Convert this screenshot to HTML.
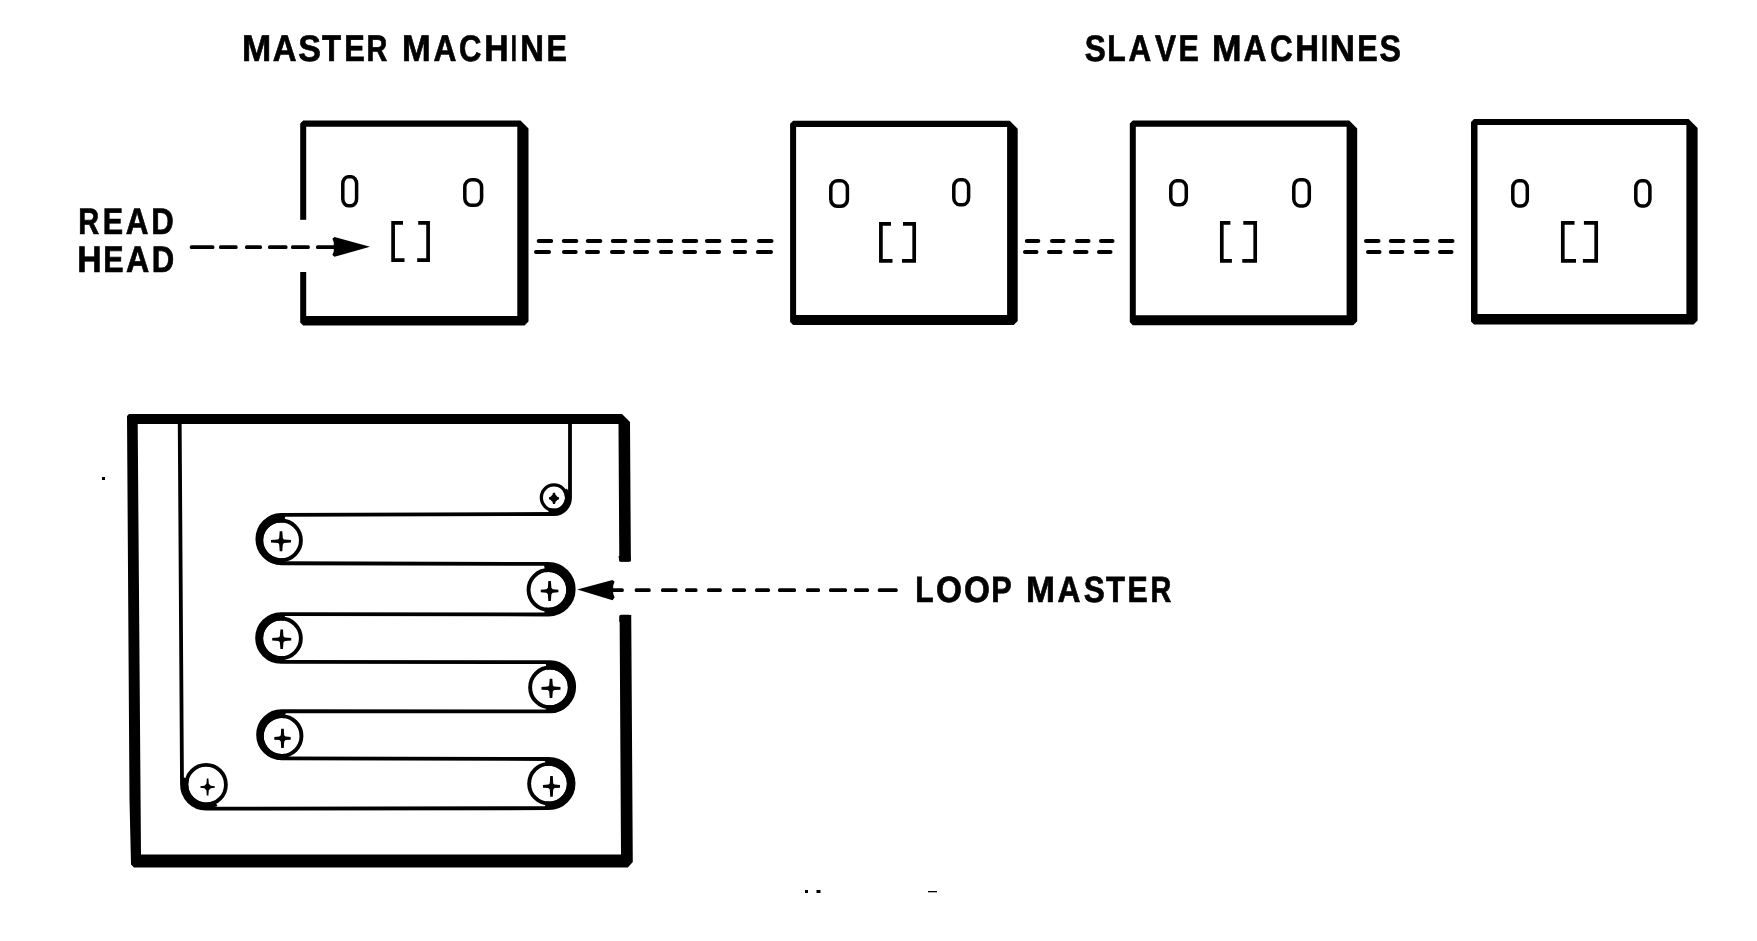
<!DOCTYPE html>
<html><head><meta charset="utf-8"><style>
html,body{margin:0;padding:0;background:#fff;width:1757px;height:941px;overflow:hidden}
svg{display:block;will-change:transform}
text{font-family:"Liberation Sans",sans-serif;font-weight:bold;fill:#000;text-rendering:geometricPrecision}
</style></head><body>
<svg width="1757" height="941" viewBox="0 0 1757 941">
<rect width="1757" height="941" fill="#fff"/>
<path d="M300.2 123.5 L303.2 120.5 L520.5 120.5 L528.5 128.5 L528.5 321.6 L524.5 325.6 L303.2 325.6 L300.2 322.6 Z M306.2 126.8 L517.3 126.8 L517.3 316.0 L306.2 316.0 Z" fill="#000" fill-rule="evenodd"/>
<rect x="299.2" y="219.8" width="8" height="52.19999999999999" fill="#fff"/>
<rect x="342.8" y="176.8" width="13.8" height="28.9" rx="5.4" ry="7" fill="none" stroke="#000" stroke-width="3.5"/>
<rect x="464.8" y="179.8" width="16.8" height="25.5" rx="6.6" ry="7" fill="none" stroke="#000" stroke-width="3.5"/>
<path d="M403.0 222.8 H393.1 V260.1 H404.5 M418.2 222.8 H428.1 V260.1 H417.2" fill="none" stroke="#000" stroke-width="3.7"/>
<path d="M790.1 123.8 L793.1 120.8 L1009.7 120.8 L1017.7 128.8 L1017.7 321.0 L1013.7 325.0 L793.1 325.0 L790.1 322.0 Z M796.1 127.0 L1007.1 127.0 L1007.1 315.0 L796.1 315.0 Z" fill="#000" fill-rule="evenodd"/>
<path d="M1129.8 123.5 L1132.8 120.5 L1349.2 120.5 L1357.2 128.5 L1357.2 321.2 L1353.2 325.2 L1132.8 325.2 L1129.8 322.2 Z M1135.8 126.7 L1346.6 126.7 L1346.6 315.2 L1135.8 315.2 Z" fill="#000" fill-rule="evenodd"/>
<path d="M1471.0 122.1 L1474.0 119.1 L1688.6 119.1 L1697.6 128.1 L1697.6 320.6 L1693.6 324.6 L1474.0 324.6 L1471.0 321.6 Z M1477.5 124.9 L1686.4 124.9 L1686.4 314.1 L1477.5 314.1 Z" fill="#000" fill-rule="evenodd"/>
<rect x="830.8" y="180.8" width="16.6" height="25.5" rx="6.5" ry="7" fill="none" stroke="#000" stroke-width="3.5"/>
<rect x="953.8" y="179.8" width="14.8" height="25.0" rx="5.8" ry="7" fill="none" stroke="#000" stroke-width="3.5"/>
<path d="M891.0 223.8 H880.9 V260.8 H892.5 M903.0 223.8 H914.2 V260.8 H902.0" fill="none" stroke="#000" stroke-width="3.7"/>
<rect x="1170.8" y="180.8" width="15.5" height="24.0" rx="6.0" ry="7" fill="none" stroke="#000" stroke-width="3.5"/>
<rect x="1293.8" y="179.7" width="15.5" height="26.3" rx="6.0" ry="7" fill="none" stroke="#000" stroke-width="3.5"/>
<path d="M1230.4 222.9 H1221.8 V260.8 H1231.9 M1243.3 222.9 H1255.2 V260.8 H1242.3" fill="none" stroke="#000" stroke-width="3.7"/>
<rect x="1512.8" y="180.8" width="14.5" height="25.2" rx="5.7" ry="7" fill="none" stroke="#000" stroke-width="3.5"/>
<rect x="1635.8" y="180.8" width="14.1" height="25.2" rx="5.5" ry="7" fill="none" stroke="#000" stroke-width="3.5"/>
<path d="M1574.5 222.8 H1562.8 V260.8 H1576.0 M1583.9 222.8 H1596.2 V260.8 H1582.9" fill="none" stroke="#000" stroke-width="3.7"/>
<rect x="536.7" y="239.0" width="16.5" height="4" rx="2" fill="#000"/>
<rect x="561.8" y="239.0" width="16.5" height="4" rx="2" fill="#000"/>
<rect x="585.8" y="239.0" width="16.5" height="4" rx="2" fill="#000"/>
<rect x="610.8" y="239.0" width="16.5" height="4" rx="2" fill="#000"/>
<rect x="634.0" y="239.0" width="16.5" height="4" rx="2" fill="#000"/>
<rect x="656.7" y="239.0" width="16.5" height="4" rx="2" fill="#000"/>
<rect x="681.7" y="239.0" width="16.5" height="4" rx="2" fill="#000"/>
<rect x="704.9" y="239.0" width="16.5" height="4" rx="2" fill="#000"/>
<rect x="730.8" y="239.0" width="16.5" height="4" rx="2" fill="#000"/>
<rect x="757.0" y="239.0" width="16.5" height="4" rx="2" fill="#000"/>
<rect x="534" y="250" width="17.0" height="4" rx="2" fill="#000"/>
<rect x="562" y="250" width="15.7" height="4" rx="2" fill="#000"/>
<rect x="585" y="250" width="15.0" height="4" rx="2" fill="#000"/>
<rect x="610" y="250" width="15.0" height="4" rx="2" fill="#000"/>
<rect x="633" y="250" width="16.0" height="4" rx="2" fill="#000"/>
<rect x="659" y="250" width="14.0" height="4" rx="2" fill="#000"/>
<rect x="682.5" y="250" width="14.5" height="4" rx="2" fill="#000"/>
<rect x="705.7" y="250" width="15.3" height="4" rx="2" fill="#000"/>
<rect x="732.7" y="250" width="14.3" height="4" rx="2" fill="#000"/>
<rect x="755.9" y="250" width="17.1" height="4" rx="2" fill="#000"/>
<rect x="1024.8" y="239.0" width="15.5" height="4" rx="2" fill="#000"/>
<rect x="1050.0" y="239.0" width="15.5" height="4" rx="2" fill="#000"/>
<rect x="1075.0" y="239.0" width="15.5" height="4" rx="2" fill="#000"/>
<rect x="1099.0" y="239.0" width="15.5" height="4" rx="2" fill="#000"/>
<rect x="1023.0" y="250.0" width="15.5" height="4" rx="2" fill="#000"/>
<rect x="1047.0" y="250.0" width="15.5" height="4" rx="2" fill="#000"/>
<rect x="1073.0" y="250.0" width="15.5" height="4" rx="2" fill="#000"/>
<rect x="1097.0" y="250.0" width="15.5" height="4" rx="2" fill="#000"/>
<rect x="1364.0" y="239.0" width="16.5" height="4" rx="2" fill="#000"/>
<rect x="1388.8" y="239.0" width="16.5" height="4" rx="2" fill="#000"/>
<rect x="1413.0" y="239.0" width="16.5" height="4" rx="2" fill="#000"/>
<rect x="1438.0" y="239.0" width="16.5" height="4" rx="2" fill="#000"/>
<rect x="1366.0" y="250.0" width="15.5" height="4" rx="2" fill="#000"/>
<rect x="1388.8" y="250.0" width="15.5" height="4" rx="2" fill="#000"/>
<rect x="1414.0" y="250.0" width="15.5" height="4" rx="2" fill="#000"/>
<rect x="1438.0" y="250.0" width="15.5" height="4" rx="2" fill="#000"/>
<rect x="189.8" y="245.2" width="24.6" height="3.7" rx="1.5" fill="#000"/>
<rect x="219.0" y="245.2" width="18.6" height="3.7" rx="1.5" fill="#000"/>
<rect x="245.0" y="245.2" width="17.0" height="3.7" rx="1.5" fill="#000"/>
<rect x="268.0" y="245.2" width="19.5" height="3.7" rx="1.5" fill="#000"/>
<rect x="291.0" y="245.2" width="18.8" height="3.7" rx="1.5" fill="#000"/>
<rect x="316.0" y="245.2" width="24.0" height="3.7" rx="1.5" fill="#000"/>
<path d="M370 246.8 L334.5 237 L332.4 238.8 L333.8 242.5 L333.8 251.3 L332.4 255 L334.5 256.8 Z" fill="#000"/>
<path d="M127.0 416.0 L129.0 414.0 L622.0 414.0 L630.0 422.0 L632.8 862.0 L627.8 867.5 L134.0 867.5 L131.0 864.5 L129.5 800.0 Z M137.7 424.0 L618.5 424.0 L621.0 854.5 L141.0 854.5 Z" fill="#000" fill-rule="evenodd"/>
<rect x="617" y="561.5" width="17" height="53.5" fill="#fff"/>
<path d="M618.6 556 L630.4 556 L630.5 560 L629 561.8 L620.5 561.8 L619 560 Z" fill="#000"/>
<path d="M619.3 616.5 L621 614.8 L629 614.8 L631 616.5 L631 622 L619.3 622 Z" fill="#000"/>
<rect x="605.0" y="588.3" width="18.8" height="3.8" rx="1.5" fill="#000"/>
<rect x="634.7" y="588.3" width="16.0" height="3.8" rx="1.5" fill="#000"/>
<rect x="661.0" y="588.3" width="16.6" height="3.8" rx="1.5" fill="#000"/>
<rect x="685.0" y="588.3" width="12.5" height="3.8" rx="1.5" fill="#000"/>
<rect x="707.0" y="588.3" width="14.8" height="3.8" rx="1.5" fill="#000"/>
<rect x="732.0" y="588.3" width="14.0" height="3.8" rx="1.5" fill="#000"/>
<rect x="755.0" y="588.3" width="15.0" height="3.8" rx="1.5" fill="#000"/>
<rect x="778.0" y="588.3" width="18.0" height="3.8" rx="1.5" fill="#000"/>
<rect x="806.0" y="588.3" width="14.0" height="3.8" rx="1.5" fill="#000"/>
<rect x="829.0" y="588.3" width="18.0" height="3.8" rx="1.5" fill="#000"/>
<rect x="854.0" y="588.3" width="15.0" height="3.8" rx="1.5" fill="#000"/>
<rect x="877.8" y="588.3" width="19.9" height="3.8" rx="1.5" fill="#000"/>
<path d="M577.3 589.6 L612.5 580 L614.6 581.8 L613.2 585.5 L613.2 593.8 L614.6 597.5 L612.5 600.2 Z" fill="#000"/>
<path d="M570 423 V498 A16 16 0 0 1 554 514 L281.1 514.80 A24.23 24.23 0 0 0 281.1 563.25 L548.4 563.90 A25.30 25.30 0 0 1 548.4 614.50 L281.0 614.10 A23.90 23.90 0 0 0 281.0 661.90 L550.0 662.10 A24.68 24.68 0 0 1 550.0 711.45 L281.6 711.25 A23.52 23.52 0 0 0 281.6 758.30 L549.0 759.00 A24.60 24.60 0 0 1 549.0 808.20 L206 808.6 A24 24 0 0 1 182 784.6 L179.7 423" fill="none" stroke="#000" stroke-width="3.8"/>
<circle cx="281.05" cy="540.3" r="19.85" fill="none" stroke="#000" stroke-width="3.9"/>
<path d="M285.31 564.45 A24.525000000000023 24.525000000000023 0 1 1 285.31 516.15 L284.16 522.67 A17.9 17.9 0 1 0 284.16 557.93 Z" fill="#000"/>
<path d="M271.0 540.0 L277.8 539.5 L278.6 538.9 L279.2 538.0 L279.7 531.2 L282.3 531.2 L282.8 538.0 L283.4 538.9 L284.2 539.5 L291.0 540.0 L291.0 542.5 L284.2 543.0 L283.4 543.6 L282.8 544.5 L282.3 551.2 L279.7 551.2 L279.2 544.5 L278.6 543.6 L277.8 543.0 L271.0 542.5 Z" fill="#000"/>
<circle cx="548.4" cy="589.8" r="19.85" fill="none" stroke="#000" stroke-width="3.9"/>
<path d="M543.95 564.59 A25.600000000000012 25.600000000000012 0 1 1 543.95 615.01 L545.29 607.43 A17.9 17.9 0 1 0 545.29 572.17 Z" fill="#000"/>
<path d="M540.8 589.7 L546.4 589.2 L547.2 588.6 L547.9 587.8 L548.3 581.0 L550.9 581.0 L551.4 587.8 L552.0 588.6 L552.8 589.2 L558.4 589.7 L558.4 592.3 L552.8 592.8 L552.0 593.4 L551.4 594.2 L550.9 601.0 L548.3 601.0 L547.9 594.2 L547.2 593.4 L546.4 592.8 L540.8 592.3 Z" fill="#000"/>
<circle cx="281.0" cy="638.3" r="19.85" fill="none" stroke="#000" stroke-width="3.9"/>
<path d="M285.20 662.13 A24.199999999999978 24.199999999999978 0 1 1 285.20 614.47 L284.11 620.67 A17.9 17.9 0 1 0 284.11 655.93 Z" fill="#000"/>
<path d="M272.2 638.0 L278.5 637.5 L279.3 636.9 L279.9 636.1 L280.4 629.5 L283.0 629.5 L283.4 636.1 L284.1 636.9 L284.9 637.5 L291.2 638.0 L291.2 640.6 L284.9 641.0 L284.1 641.7 L283.4 642.5 L283.0 649.1 L280.4 649.1 L279.9 642.5 L279.3 641.7 L278.5 641.0 L272.2 640.6 Z" fill="#000"/>
<circle cx="550.0" cy="687.4" r="19.85" fill="none" stroke="#000" stroke-width="3.9"/>
<path d="M545.66 662.80 A24.975000000000012 24.975000000000012 0 1 1 545.66 712.00 L546.89 705.03 A17.9 17.9 0 1 0 546.89 669.77 Z" fill="#000"/>
<path d="M541.5 687.1 L547.8 686.6 L548.6 686.0 L549.2 685.2 L549.7 678.8 L552.3 678.8 L552.8 685.2 L553.4 686.0 L554.2 686.6 L560.5 687.1 L560.5 689.7 L554.2 690.1 L553.4 690.8 L552.8 691.6 L552.3 698.0 L549.7 698.0 L549.2 691.6 L548.6 690.8 L547.8 690.1 L541.5 689.7 Z" fill="#000"/>
<circle cx="281.6" cy="736.0" r="19.85" fill="none" stroke="#000" stroke-width="3.9"/>
<path d="M285.74 759.46 A23.824999999999978 23.824999999999978 0 1 1 285.74 712.54 L284.71 718.37 A17.9 17.9 0 1 0 284.71 753.63 Z" fill="#000"/>
<path d="M274.3 737.1 L279.3 736.6 L280.1 736.0 L280.8 735.2 L281.2 728.8 L283.8 728.8 L284.2 735.2 L284.9 736.0 L285.7 736.6 L290.7 737.1 L290.7 739.7 L285.7 740.1 L284.9 740.8 L284.2 741.6 L283.8 748.0 L281.2 748.0 L280.8 741.6 L280.1 740.8 L279.3 740.1 L274.3 739.7 Z" fill="#000"/>
<circle cx="549.0" cy="783.7" r="19.85" fill="none" stroke="#000" stroke-width="3.9"/>
<path d="M544.68 759.18 A24.900000000000023 24.900000000000023 0 1 1 544.68 808.22 L545.89 801.33 A17.9 17.9 0 1 0 545.89 766.07 Z" fill="#000"/>
<path d="M543.0 785.1 L548.3 784.6 L549.1 784.0 L549.8 783.2 L550.2 776.0 L552.8 776.0 L553.2 783.2 L553.9 784.0 L554.7 784.6 L560.0 785.1 L560.0 787.7 L554.7 788.1 L553.9 788.8 L553.2 789.6 L552.8 796.8 L550.2 796.8 L549.8 789.6 L549.1 788.8 L548.3 788.1 L543.0 787.7 Z" fill="#000"/>
<circle cx="206.1" cy="784.65" r="19.8" fill="none" stroke="#000" stroke-width="3.8"/>
<path d="M217.46 806.02 A24.2 24.2 0 0 1 183.08 777.17 L189.08 779.12 A17.9 17.9 0 0 0 214.50 800.45 Z" fill="#000"/>
<path d="M200.4 786.2 L204.4 785.8 L205.4 784.8 L206.4 783.8 L206.8 778.5 L208.4 778.5 L208.8 783.8 L209.8 784.8 L210.8 785.8 L214.8 786.2 L214.8 787.8 L210.8 788.2 L209.8 789.2 L208.8 790.2 L208.4 795.5 L206.8 795.5 L206.4 790.2 L205.4 789.2 L204.4 788.2 L200.4 787.8 Z" fill="#000"/>
<circle cx="554" cy="497.6" r="12.65" fill="none" stroke="#000" stroke-width="3.3"/>
<path d="M566.94 488.40 A16.0 16.0 0 0 1 548.01 512.63 L549.88 508.00 A11.0 11.0 0 0 0 562.90 491.33 Z" fill="#000"/>
<path d="M549.0 497.3 L550.8 496.7 L551.4 495.7 L552.4 495.1 L553.0 492.7 L555.0 492.7 L555.6 495.1 L556.6 495.7 L557.2 496.7 L559.0 497.3 L559.0 499.3 L557.2 499.9 L556.6 500.9 L555.6 501.5 L555.0 503.9 L553.0 503.9 L552.4 501.5 L551.4 500.9 L550.8 499.9 L549.0 499.3 Z" fill="#000"/>
<rect x="102" y="477" width="3" height="3" fill="#000"/>
<rect x="805" y="890" width="3" height="3" fill="#000"/>
<rect x="816.5" y="890" width="4" height="3" fill="#000"/>
<rect x="928" y="891" width="9" height="1.3" fill="#000"/>
<text transform="matrix(0.9491 0 0 1 241.91 60.75)" font-size="36.92" stroke="#000" stroke-width="0.7" vector-effect="non-scaling-stroke">M</text>
<text transform="matrix(0.8922 0 0 1 272.73 60.75)" font-size="36.92" stroke="#000" stroke-width="0.7" vector-effect="non-scaling-stroke">A</text>
<text transform="matrix(0.9223 0 0 1 298.27 60.75)" font-size="36.92" stroke="#000" stroke-width="0.7" vector-effect="non-scaling-stroke">S</text>
<text transform="matrix(0.8463 0 0 1 321.90 60.75)" font-size="36.92" stroke="#000" stroke-width="0.7" vector-effect="non-scaling-stroke">T</text>
<text transform="matrix(0.8352 0 0 1 344.29 60.75)" font-size="36.92" stroke="#000" stroke-width="0.7" vector-effect="non-scaling-stroke">E</text>
<text transform="matrix(0.7809 0 0 1 366.42 60.75)" font-size="36.92" stroke="#000" stroke-width="0.7" vector-effect="non-scaling-stroke">R</text>
<text transform="matrix(0.9336 0 0 1 402.04 60.75)" font-size="36.92" stroke="#000" stroke-width="0.7" vector-effect="non-scaling-stroke">M</text>
<text transform="matrix(0.8599 0 0 1 433.56 60.75)" font-size="36.92" stroke="#000" stroke-width="0.7" vector-effect="non-scaling-stroke">A</text>
<text transform="matrix(0.8410 0 0 1 459.08 60.75)" font-size="36.92" stroke="#000" stroke-width="0.7" vector-effect="non-scaling-stroke">C</text>
<text transform="matrix(0.9123 0 0 1 484.30 60.75)" font-size="36.92" stroke="#000" stroke-width="0.7" vector-effect="non-scaling-stroke">H</text>
<text transform="matrix(0.6017 0 0 1 510.86 60.75)" font-size="36.92" stroke="#000" stroke-width="0.7" vector-effect="non-scaling-stroke">I</text>
<text transform="matrix(0.8892 0 0 1 520.15 60.75)" font-size="36.92" stroke="#000" stroke-width="0.7" vector-effect="non-scaling-stroke">N</text>
<text transform="matrix(0.8304 0 0 1 546.50 60.75)" font-size="36.92" stroke="#000" stroke-width="0.7" vector-effect="non-scaling-stroke">E</text>
<text transform="matrix(0.8545 0 0 1 1084.64 60.75)" font-size="36.92" stroke="#000" stroke-width="0.7" vector-effect="non-scaling-stroke">S</text>
<text transform="matrix(0.8181 0 0 1 1107.23 60.75)" font-size="36.92" stroke="#000" stroke-width="0.7" vector-effect="non-scaling-stroke">L</text>
<text transform="matrix(0.8519 0 0 1 1128.47 60.75)" font-size="36.92" stroke="#000" stroke-width="0.7" vector-effect="non-scaling-stroke">A</text>
<text transform="matrix(0.8541 0 0 1 1154.93 60.75)" font-size="36.92" stroke="#000" stroke-width="0.7" vector-effect="non-scaling-stroke">V</text>
<text transform="matrix(0.8256 0 0 1 1178.61 60.75)" font-size="36.92" stroke="#000" stroke-width="0.7" vector-effect="non-scaling-stroke">E</text>
<text transform="matrix(0.9607 0 0 1 1211.98 60.75)" font-size="36.92" stroke="#000" stroke-width="0.7" vector-effect="non-scaling-stroke">M</text>
<text transform="matrix(0.8599 0 0 1 1243.56 60.75)" font-size="36.92" stroke="#000" stroke-width="0.7" vector-effect="non-scaling-stroke">A</text>
<text transform="matrix(0.8534 0 0 1 1269.96 60.75)" font-size="36.92" stroke="#000" stroke-width="0.7" vector-effect="non-scaling-stroke">C</text>
<text transform="matrix(0.8892 0 0 1 1295.15 60.75)" font-size="36.92" stroke="#000" stroke-width="0.7" vector-effect="non-scaling-stroke">H</text>
<text transform="matrix(0.6958 0 0 1 1320.93 60.75)" font-size="36.92" stroke="#000" stroke-width="0.7" vector-effect="non-scaling-stroke">I</text>
<text transform="matrix(0.9445 0 0 1 1329.82 60.75)" font-size="36.92" stroke="#000" stroke-width="0.7" vector-effect="non-scaling-stroke">N</text>
<text transform="matrix(0.8304 0 0 1 1357.30 60.75)" font-size="36.92" stroke="#000" stroke-width="0.7" vector-effect="non-scaling-stroke">E</text>
<text transform="matrix(0.8725 0 0 1 1379.42 60.75)" font-size="36.92" stroke="#000" stroke-width="0.7" vector-effect="non-scaling-stroke">S</text>
<text transform="matrix(0.7821 0 0 1 78.21 233.95)" font-size="37.06" stroke="#000" stroke-width="0.7" vector-effect="non-scaling-stroke">R</text>
<text transform="matrix(0.8223 0 0 1 102.71 233.95)" font-size="37.06" stroke="#000" stroke-width="0.7" vector-effect="non-scaling-stroke">E</text>
<text transform="matrix(0.8485 0 0 1 125.87 233.95)" font-size="37.06" stroke="#000" stroke-width="0.7" vector-effect="non-scaling-stroke">A</text>
<text transform="matrix(0.8403 0 0 1 151.17 233.95)" font-size="37.06" stroke="#000" stroke-width="0.7" vector-effect="non-scaling-stroke">D</text>
<text transform="matrix(0.9159 0 0 1 77.20 271.95)" font-size="36.77" stroke="#000" stroke-width="0.7" vector-effect="non-scaling-stroke">H</text>
<text transform="matrix(0.8288 0 0 1 103.31 271.95)" font-size="36.77" stroke="#000" stroke-width="0.7" vector-effect="non-scaling-stroke">E</text>
<text transform="matrix(0.8755 0 0 1 126.05 271.95)" font-size="36.77" stroke="#000" stroke-width="0.7" vector-effect="non-scaling-stroke">A</text>
<text transform="matrix(0.8469 0 0 1 151.87 271.95)" font-size="36.77" stroke="#000" stroke-width="0.7" vector-effect="non-scaling-stroke">D</text>
<text transform="matrix(0.8225 0 0 1 915.34 601.95)" font-size="36.48" stroke="#000" stroke-width="0.7" vector-effect="non-scaling-stroke">L</text>
<text transform="matrix(0.9152 0 0 1 936.08 601.95)" font-size="36.48" stroke="#000" stroke-width="0.7" vector-effect="non-scaling-stroke">O</text>
<text transform="matrix(0.9152 0 0 1 963.98 601.95)" font-size="36.48" stroke="#000" stroke-width="0.7" vector-effect="non-scaling-stroke">O</text>
<text transform="matrix(0.8428 0 0 1 991.19 601.95)" font-size="36.48" stroke="#000" stroke-width="0.7" vector-effect="non-scaling-stroke">P</text>
<text transform="matrix(0.9526 0 0 1 1026.03 601.95)" font-size="36.48" stroke="#000" stroke-width="0.7" vector-effect="non-scaling-stroke">M</text>
<text transform="matrix(0.8702 0 0 1 1057.56 601.95)" font-size="36.48" stroke="#000" stroke-width="0.7" vector-effect="non-scaling-stroke">A</text>
<text transform="matrix(0.8647 0 0 1 1083.64 601.95)" font-size="36.48" stroke="#000" stroke-width="0.7" vector-effect="non-scaling-stroke">S</text>
<text transform="matrix(0.8518 0 0 1 1106.00 601.95)" font-size="36.48" stroke="#000" stroke-width="0.7" vector-effect="non-scaling-stroke">T</text>
<text transform="matrix(0.8306 0 0 1 1127.62 601.95)" font-size="36.48" stroke="#000" stroke-width="0.7" vector-effect="non-scaling-stroke">E</text>
<text transform="matrix(0.7902 0 0 1 1150.42 601.95)" font-size="36.48" stroke="#000" stroke-width="0.7" vector-effect="non-scaling-stroke">R</text>
</svg></body></html>
